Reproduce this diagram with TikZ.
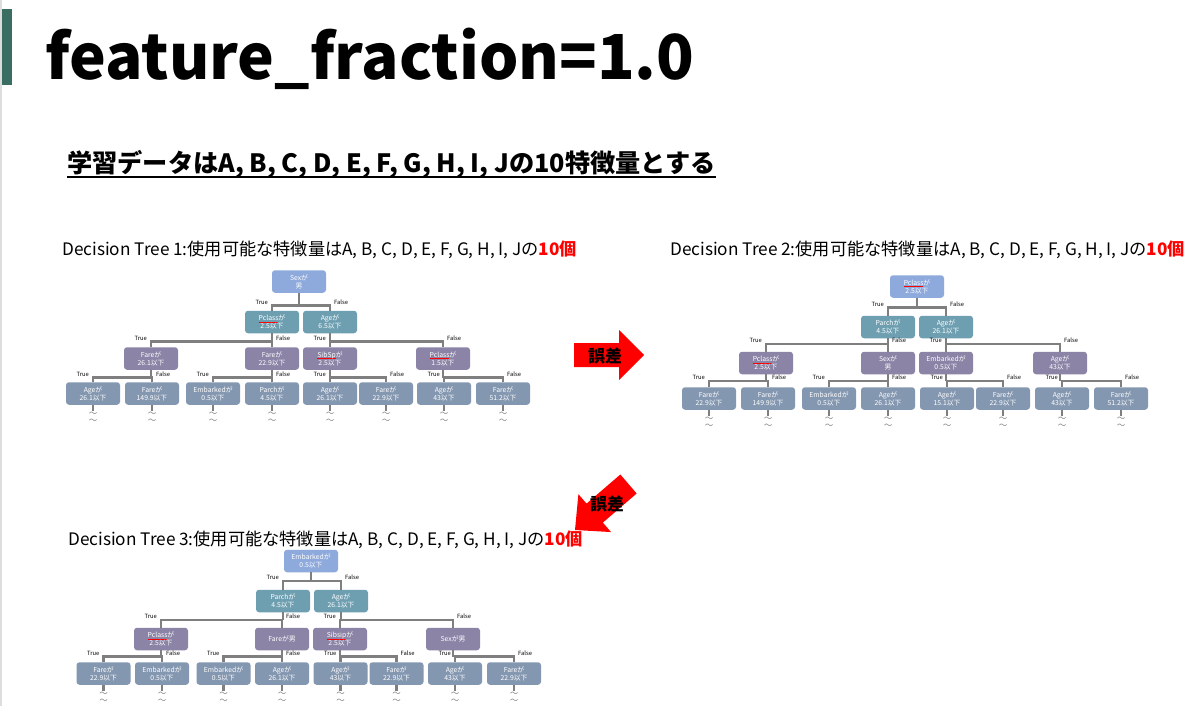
\documentclass[tikz,border=0pt]{standalone}
\usepackage{fontspec}
\setmainfont{Noto Sans CJK JP}
\usetikzlibrary{calc}
\definecolor{cbar}{HTML}{3B6E63}
\definecolor{cr}{HTML}{8EA9DB}
\definecolor{ca}{HTML}{6E9FB1}
\definecolor{cb}{HTML}{8B84A6}
\definecolor{cc}{HTML}{8497B0}
\definecolor{cl}{HTML}{7F7F7F}
\definecolor{cedge}{HTML}{DDDDDD}
\newcommand\sq[1]{\setbox0\hbox{#1}\rlap{\color{red}\rule[-1.6pt]{\wd0}{0.3pt}}\box0}
\newcommand\tsplit[4]{%
  \draw[conn] (#1.south) -- (#1.south |- #4);
  \coordinate (#1L) at (#2.north |- #4);
  \coordinate (#1R) at (#3.north |- #4);
  \draw[conn] (#2.north) -- (#1L) -- (#1R) -- (#3.north);
  \node[lbl, anchor=south east] (#1T) at ([xshift=-4pt,yshift=1pt]#1L) {True};
  \node[lbl, anchor=south west] (#1F) at ([xshift=4pt,yshift=1pt]#1R) {False};
}
\newcommand\leaf[1]{%
  \draw[conn] (#1.south) -- ++(0,6) coordinate (#1s);
  \node[tl] (#1u) at ([yshift=-3pt]#1s) {〜};
  \node[tl] (#1v) at ([yshift=-10pt]#1s) {〜};
}
\tikzset{
  nd/.style={rounded corners=3pt, minimum width=54pt, minimum height=22.5pt, inner sep=0pt,
    text=white, font=\fontsize{6.8}{8}\selectfont, align=center},
  n0/.style={nd, fill=cr}, n1/.style={nd, fill=ca}, n2/.style={nd, fill=cb}, n3/.style={nd, fill=cc},
  conn/.style={draw=cl, line width=2.8pt},
  lbl/.style={font=\fontsize{5.8}{6}\selectfont, inner sep=0pt},
  tl/.style={text=cl, font=\fontsize{8.5}{8.5}\selectfont, inner sep=0pt},
  ttl/.style={font=\fontsize{17.2}{20}\selectfont, inner sep=0pt, anchor=west},
  err/.style={font=\bfseries\fontsize{17}{17}\selectfont, inner sep=0pt},
  arr/.style={fill=red, draw=none}
}
\begin{document}
\begin{tikzpicture}[x=1pt,y=-1pt]
\useasboundingbox (0,0) rectangle (1200,706);
\fill[white] (0,0) rectangle (1200,706);
\fill[cedge] (0,0) rectangle (2,706);
\fill[cbar] (2,9) rectangle (12,85);
\node[anchor=base west, font=\bfseries\fontsize{62}{62}\selectfont, inner sep=0pt] (title) at (45,80) {feature\_fraction=1.0};
\node[anchor=base west, font=\bfseries\fontsize{25.2}{25}\selectfont, inner sep=0pt] (sub) at (67,172) {学習データはA, B, C, D, E, F, G, H, I, Jの10特徴量とする};
\draw[line width=1.6pt] ([yshift=-5pt]sub.base west) -- ([yshift=-5pt]sub.base east);

\node[ttl] (h1) at (62,250) {Decision Tree 1:使用可能な特徴量はA, B, C, D, E, F, G, H, I, Jの\textcolor{red}{\bfseries 10個}};
\node[ttl] (h2) at (670,250) {Decision Tree 2:使用可能な特徴量はA, B, C, D, E, F, G, H, I, Jの\textcolor{red}{\bfseries 10個}};
\node[ttl] (h3) at (68,540) {Decision Tree 3:使用可能な特徴量はA, B, C, D, E, F, G, H, I, Jの\textcolor{red}{\bfseries 10個}};

% ---------- Tree 1
\node[n0] (a0) at (299,281.5) {Sexが\\男};
\node[n1] (a1) at (272,322) {\sq{Pclass}が\\2.5以下};
\node[n1] (a2) at (330,322) {Ageが\\6.5以下};
\node[n2] (a3) at (151,358.5) {Fareが\\26.1以下};
\node[n2] (a4) at (272,358.5) {Fareが\\22.9以下};
\node[n2] (a5) at (330,358.5) {\sq{SibSp}が\\2.5以下};
\node[n2] (a6) at (443,358.5) {\sq{Pclass}が\\1.5以下};
\node[n3] (a7) at (93,393.5) {Ageが\\26.1以下};
\node[n3] (a8) at (152,393.5) {Fareが\\149.9以下};
\node[n3] (a9) at (213,393.5) {Embarkedが\\0.5以下};
\node[n3] (a10) at (272,393.5) {Parchが\\4.5以下};
\node[n3] (a11) at (330,393.5) {Ageが\\26.1以下};
\node[n3] (a12) at (386,393.5) {Fareが\\22.9以下};
\node[n3] (a13) at (444,393.5) {Ageが\\43以下};
\node[n3] (a14) at (503,393.5) {Fareが\\51.2以下};
\coordinate (ya0) at (0,305.5);
\coordinate (ya1) at (0,341.5);
\coordinate (ya2) at (0,377.5);
\tsplit{a0}{a1}{a2}{ya0}
\tsplit{a1}{a3}{a4}{ya1}
\tsplit{a2}{a5}{a6}{ya1}
\tsplit{a3}{a7}{a8}{ya2}
\tsplit{a4}{a9}{a10}{ya2}
\tsplit{a5}{a11}{a12}{ya2}
\tsplit{a6}{a13}{a14}{ya2}
\foreach \n in {a7,a8,a9,a10,a11,a12,a13,a14}{\leaf{\n}}

% ---------- Tree 2
\node[n0] (b0) at (917,286.5) {\sq{Pclass}が\\2.5以下};
\node[n1] (b1) at (888,327) {Parchが\\4.5以下};
\node[n1] (b2) at (946,327) {Ageが\\26.1以下};
\node[n2] (b3) at (766,363) {\sq{Pclass}が\\2.5以下};
\node[n2] (b4) at (888,363) {Sexが\\男};
\node[n2] (b5) at (946,363) {Embarkedが\\0.5以下};
\node[n2] (b6) at (1060,363) {Ageが\\43以下};
\node[n3] (b7) at (709,398.5) {Fareが\\22.9以下};
\node[n3] (b8) at (768,398.5) {Fareが\\149.9以下};
\node[n3] (b9) at (829,398.5) {Embarkedが\\0.5以下};
\node[n3] (b10) at (888,398.5) {Ageが\\26.1以下};
\node[n3] (b11) at (947,398.5) {Ageが\\15.1以下};
\node[n3] (b12) at (1003,398.5) {Fareが\\22.9以下};
\node[n3] (b13) at (1062,398.5) {Ageが\\43以下};
\node[n3] (b14) at (1121,398.5) {Fareが\\51.2以下};
\coordinate (yb0) at (0,307.5);
\coordinate (yb1) at (0,344);
\coordinate (yb2) at (0,381);
\tsplit{b0}{b1}{b2}{yb0}
\tsplit{b1}{b3}{b4}{yb1}
\tsplit{b2}{b5}{b6}{yb1}
\tsplit{b3}{b7}{b8}{yb2}
\tsplit{b4}{b9}{b10}{yb2}
\tsplit{b5}{b11}{b12}{yb2}
\tsplit{b6}{b13}{b14}{yb2}
\foreach \n in {b7,b8,b9,b10,b11,b12,b13,b14}{\leaf{\n}}

% ---------- Tree 3
\node[n0] (c0) at (311,561) {Embarkedが\\0.5以下};
\node[n1] (c1) at (283,601) {Parchが\\4.5以下};
\node[n1] (c2) at (341,601) {Ageが\\26.1以下};
\node[n2] (c3) at (161,639) {\sq{Pclass}が\\2.5以下};
\node[n2] (c4) at (282,639) {Fareが男};
\node[n2] (c5) at (340,639) {\sq{Sibsip}が\\2.5以下};
\node[n2] (c6) at (453,639) {Sexが男};
\node[n3] (c7) at (103.5,673.5) {Fareが\\22.9以下};
\node[n3] (c8) at (162,673.5) {Embarkedが\\0.5以下};
\node[n3] (c9) at (223.5,673.5) {Embarkedが\\0.5以下};
\node[n3] (c10) at (282,673.5) {Ageが\\26.1以下};
\node[n3] (c11) at (340.5,673.5) {Ageが\\43以下};
\node[n3] (c12) at (396.5,673.5) {Fareが\\22.9以下};
\node[n3] (c13) at (455,673.5) {Ageが\\43以下};
\node[n3] (c14) at (514,673.5) {Fareが\\22.9以下};
\coordinate (yc0) at (0,581);
\coordinate (yc1) at (0,620);
\coordinate (yc2) at (0,656.5);
\tsplit{c0}{c1}{c2}{yc0}
\tsplit{c1}{c3}{c4}{yc1}
\tsplit{c2}{c5}{c6}{yc1}
\tsplit{c3}{c7}{c8}{yc2}
\tsplit{c4}{c9}{c10}{yc2}
\tsplit{c5}{c11}{c12}{yc2}
\tsplit{c6}{c13}{c14}{yc2}
\foreach \n in {c7,c8,c9,c10,c11,c12,c13,c14}{\leaf{\n}}

% ---------- error arrows
\fill[arr] (574,343) -- (619,343) -- (619,330) -- (644,355) -- (619,380) -- (619,367) -- (574,367) -- cycle;
\node[err] (e1) at (605,356) {誤差};
\fill[arr] (620.35,474.5) -- (586.55,503.6) -- (578.4,494.15) -- (575,530) -- (611,532.05) -- (602.85,522.6) -- (636.65,493.5) -- cycle;
\node[err] (e2) at (607,504) {誤差};
\end{tikzpicture}
\end{document}
